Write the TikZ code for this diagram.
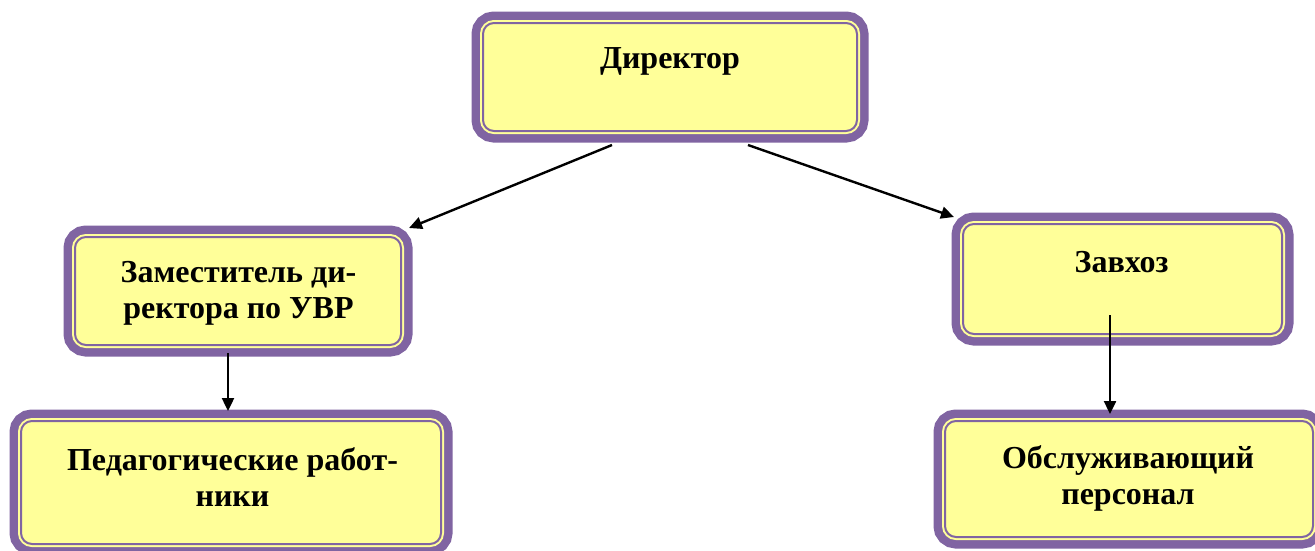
\documentclass[tikz,border=0pt]{standalone}
\usepackage{fontspec}
\setmainfont{Liberation Serif}
\usetikzlibrary{arrows.meta}
\definecolor{boxpurple}{HTML}{8064A2}
\definecolor{boxyellow}{HTML}{FFFF99}
\tikzset{
  orgbox/.style={rectangle, rounded corners=11pt, inner sep=0pt,
    preaction={draw=boxpurple, line width=23pt},
    preaction={draw=boxyellow, line width=6pt},
    fill=boxyellow, draw=boxpurple, line width=2pt},
  orgtext/.style={align=center, anchor=base, inner sep=0pt,
    font=\fontsize{32}{36}\selectfont\bfseries},
  arr/.style={-{Triangle[length=13pt,width=12pt]}, line width=2.4pt, black}
}
\begin{document}
\begin{tikzpicture}[x=1pt,y=-1pt]
\useasboundingbox (0,0) rectangle (1315,550);
\node[orgbox, minimum width=374pt, minimum height=108pt] (dir) at (670,77) {};
\node[orgbox, minimum width=326pt, minimum height=108pt] (zam) at (238,291) {};
\node[orgbox, minimum width=420pt, minimum height=123pt] (ped) at (231,482.5) {};
\node[orgbox, minimum width=319pt, minimum height=110pt] (zav) at (1122.5,279) {};
\node[orgbox, minimum width=368pt, minimum height=116pt] (obs) at (1129,479) {};
\node[orgtext] (dirt) at (670,68) {Директор};
\node[orgtext] (zamt) at (238.5,318) {Заместитель ди-\\ректора по УВР};
\node[orgtext] (pedt) at (232.5,506) {Педагогические работ-\\ники};
\node[orgtext] (zavt) at (1121.5,272) {Завхоз};
\node[orgtext] (obst) at (1128,504) {Обслуживающий\\персонал};
\draw[arr] ([xshift=-58pt,yshift=-13pt]dir.south) -- ([xshift=7pt,yshift=8pt]zam.north east);
\draw[arr] ([xshift=78pt,yshift=-13pt]dir.south) -- ([xshift=-8pt,yshift=6pt]zav.north west);
\draw[arr] ([xshift=-10pt,yshift=-7pt]zam.south) -- ([xshift=-3pt,yshift=9pt]ped.north);
\draw[arr] ([xshift=-12.5pt,yshift=20pt]zav.south) -- ([xshift=-19pt,yshift=6pt]obs.north);
\end{tikzpicture}
\end{document}
